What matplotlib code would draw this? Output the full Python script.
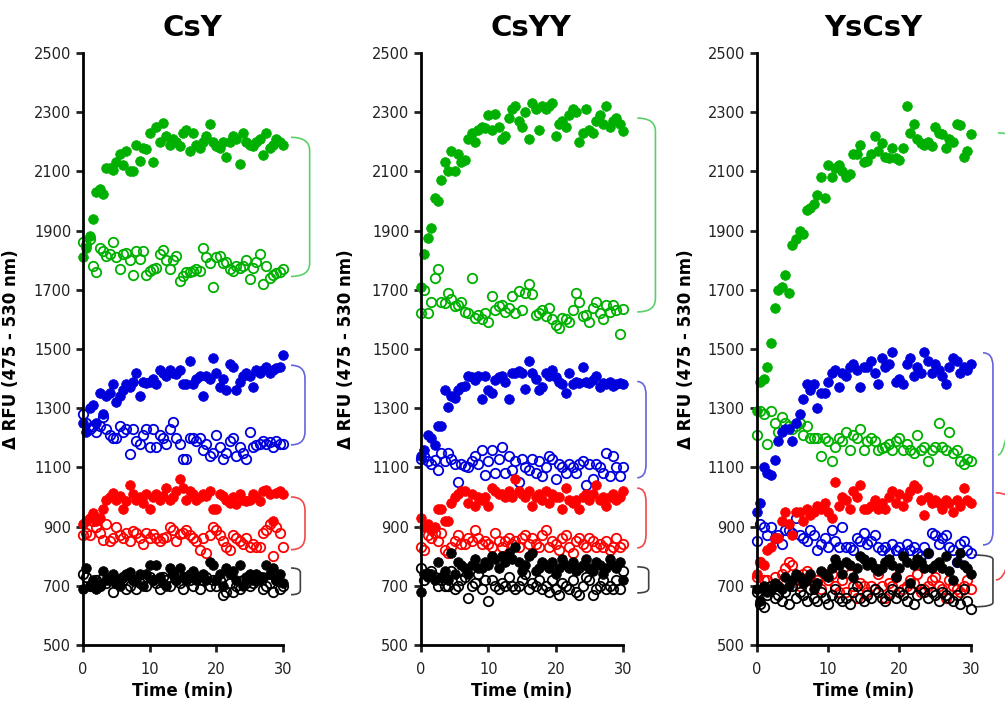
import numpy as np
import matplotlib
matplotlib.use('Agg')
import matplotlib.pyplot as plt
from matplotlib.path import Path
from matplotlib.patches import PathPatch

# Datos (lecturas cada ~0.5 min, 0-30 min)
titles = ['CsY', 'CsYY', 'YsCsY']

# ---- CsY ----
csy_green_fill = [1810, 1840, 1880, 1940, 2030, 2040, 2025, 2110, 2110, 2105,
                  2130, 2160, 2120, 2170, 2100, 2100, 2190, 2135, 2180, 2175,
                  2230, 2130, 2250, 2200, 2265, 2220, 2190, 2210, 2200, 2185,
                  2230, 2240, 2170, 2230, 2190, 2180, 2200, 2220, 2260, 2200,
                  2185, 2180, 2200, 2150, 2200, 2220, 2210, 2125, 2230, 2200,
                  2190, 2185, 2200, 2210, 2155, 2230, 2180, 2190, 2210, 2200, 2190]
csy_green_open = [1860, 1850, 1870, 1780, 1760, 1840, 1830, 1815, 1820, 1860,
                  1810, 1770, 1820, 1825, 1800, 1750, 1830, 1805, 1830, 1750,
                  1765, 1770, 1775, 1820, 1835, 1800, 1770, 1800, 1815, 1730,
                  1745, 1760, 1760, 1765, 1770, 1765, 1840, 1810, 1790, 1710,
                  1810, 1815, 1790, 1795, 1770, 1765, 1780, 1775, 1780, 1800,
                  1735, 1775, 1795, 1820, 1720, 1780, 1740, 1750, 1755, 1760, 1770]
csy_blue_fill = [1250, 1220, 1300, 1310, 1250, 1350, 1280, 1340, 1350, 1380,
                 1320, 1340, 1360, 1380, 1370, 1390, 1420, 1340, 1390, 1385,
                 1390, 1400, 1380, 1430, 1420, 1410, 1430, 1420, 1415, 1430,
                 1380, 1380, 1460, 1380, 1400, 1410, 1340, 1410, 1400, 1470,
                 1420, 1370, 1400, 1360, 1450, 1440, 1360, 1390, 1410, 1420,
                 1410, 1370, 1430, 1420, 1430, 1440, 1420, 1430, 1435, 1440, 1480]
csy_blue_open = [1280, 1250, 1230, 1240, 1220, 1240, 1270, 1230, 1210, 1200,
                 1200, 1240, 1220, 1230, 1145, 1230, 1190, 1180, 1210, 1230,
                 1170, 1230, 1170, 1210, 1200, 1180, 1230, 1255, 1200, 1180,
                 1130, 1130, 1200, 1200, 1190, 1200, 1160, 1180, 1140, 1150,
                 1210, 1170, 1130, 1150, 1190, 1200, 1140, 1170, 1150, 1130,
                 1220, 1170, 1175, 1180, 1190, 1180, 1185, 1170, 1190, 1180, 1180]
csy_red_fill = [910, 920, 930, 945, 920, 930, 960, 990, 1000, 1015,
                990, 1005, 960, 985, 1040, 1010, 990, 1000, 980, 1010,
                960, 1000, 1010, 990, 1005, 1030, 990, 1000, 1020, 1060,
                1030, 990, 1020, 1010, 990, 1000, 1010, 1005, 1020, 960,
                960, 1010, 1005, 990, 980, 1000, 975, 1010, 990, 985,
                990, 1010, 1000, 985, 1020, 1025, 1010, 920, 1015, 1020, 1010]
csy_red_open = [870, 880, 870, 920, 900, 880, 855, 910, 850, 860,
                900, 870, 860, 880, 850, 885, 880, 860, 840, 880,
                860, 875, 860, 850, 860, 865, 900, 890, 850, 875,
                880, 890, 870, 860, 850, 820, 860, 810, 870, 900,
                890, 870, 850, 830, 820, 870, 860, 850, 840, 860,
                830, 840, 830, 830, 880, 890, 910, 800, 900, 880, 830]
csy_black_fill = [690, 760, 700, 720, 690, 700, 750, 720, 730, 740,
                  710, 700, 730, 740, 745, 720, 720, 740, 700, 740,
                  770, 720, 770, 730, 710, 700, 760, 740, 720, 760,
                  730, 720, 740, 750, 720, 730, 740, 720, 780, 770,
                  720, 740, 700, 760, 740, 750, 720, 770, 700, 730,
                  740, 720, 740, 720, 730, 770, 740, 760, 720, 740, 710]
csy_black_open = [740, 730, 700, 710, 720, 700, 730, 710, 720, 680,
                  710, 720, 730, 690, 700, 720, 690, 710, 720, 700,
                  730, 720, 710, 690, 730, 720, 700, 740, 720, 710,
                  690, 730, 720, 700, 730, 690, 720, 730, 700, 720,
                  700, 720, 670, 680, 710, 680, 700, 690, 720, 710,
                  700, 710, 720, 730, 690, 700, 710, 680, 720, 690, 700]

# ---- CsYY ----
csyy_green_fill = [1710, 1820, 1875, 1910, 2010, 2000, 2070, 2130, 2100, 2170,
                   2100, 2160, 2130, 2140, 2210, 2230, 2200, 2240, 2250, 2245,
                   2290, 2240, 2295, 2250, 2210, 2220, 2280, 2310, 2320, 2270,
                   2250, 2300, 2210, 2330, 2310, 2240, 2320, 2310, 2320, 2330,
                   2220, 2260, 2270, 2250, 2290, 2310, 2300, 2200, 2230, 2310,
                   2240, 2230, 2270, 2290, 2260, 2320, 2250, 2270, 2280, 2260, 2235]
csyy_green_open = [1620, 1700, 1620, 1660, 1740, 1770, 1660, 1655, 1690, 1670,
                   1645, 1650, 1660, 1625, 1620, 1740, 1605, 1615, 1600, 1620,
                   1590, 1680, 1630, 1645, 1650, 1625, 1640, 1680, 1620, 1695,
                   1630, 1690, 1720, 1685, 1615, 1620, 1630, 1610, 1640, 1600,
                   1580, 1570, 1605, 1600, 1590, 1630, 1690, 1660, 1610, 1615,
                   1590, 1640, 1660, 1620, 1600, 1650, 1625, 1650, 1630, 1550, 1635]
csyy_blue_fill = [1140, 1160, 1210, 1200, 1175, 1240, 1240, 1360, 1305, 1340,
                  1335, 1360, 1370, 1375, 1410, 1405, 1395, 1410, 1330, 1410,
                  1360, 1350, 1395, 1405, 1410, 1390, 1330, 1420, 1420, 1425,
                  1420, 1365, 1460, 1420, 1400, 1360, 1370, 1420, 1410, 1430,
                  1405, 1390, 1380, 1350, 1420, 1380, 1390, 1385, 1440, 1390,
                  1385, 1395, 1410, 1370, 1385, 1380, 1390, 1375, 1380, 1385, 1380]
csyy_blue_open = [1130, 1140, 1120, 1110, 1125, 1090, 1150, 1120, 1150, 1130,
                  1110, 1050, 1110, 1105, 1100, 1120, 1140, 1110, 1160, 1075,
                  1120, 1160, 1080, 1130, 1170, 1080, 1140, 1090, 1120, 1050,
                  1130, 1100, 1090, 1130, 1080, 1120, 1070, 1100, 1140, 1130,
                  1060, 1110, 1100, 1080, 1110, 1100, 1080, 1110, 1120, 1040,
                  1110, 1060, 1110, 1100, 1080, 1150, 1070, 1140, 1100, 1070, 1100]
csyy_red_fill = [930, 900, 910, 890, 900, 960, 960, 920, 920, 980,
                 1000, 1010, 1020, 1020, 980, 1010, 970, 1000, 990, 1000,
                 970, 1030, 1020, 1010, 1010, 1000, 1020, 1000, 1060, 1020,
                 1010, 1000, 1020, 970, 1000, 1010, 990, 1020, 980, 1010,
                 1000, 1000, 960, 1030, 990, 980, 990, 960, 1000, 1010,
                 990, 1010, 1040, 990, 1000, 970, 1000, 1010, 990, 1000, 1020]
csyy_red_open = [830, 820, 870, 860, 880, 850, 880, 820, 810, 830,
                 850, 870, 840, 840, 860, 850, 890, 860, 840, 850,
                 840, 830, 880, 850, 830, 850, 860, 840, 850, 830,
                 860, 870, 840, 860, 840, 830, 870, 890, 830, 850,
                 840, 820, 860, 870, 830, 810, 850, 860, 840, 830,
                 860, 850, 830, 840, 830, 850, 820, 830, 860, 830, 840]
csyy_black_fill = [680, 740, 730, 740, 720, 780, 730, 750, 720, 810,
                   740, 780, 770, 760, 740, 770, 790, 760, 760, 780,
                   770, 800, 790, 760, 800, 780, 810, 790, 830, 780,
                   750, 770, 800, 810, 750, 760, 780, 770, 760, 780,
                   740, 760, 790, 770, 760, 780, 750, 760, 770, 790,
                   760, 750, 780, 770, 740, 760, 790, 770, 760, 780, 720]
csyy_black_open = [760, 720, 740, 750, 730, 700, 720, 700, 700, 750,
                   690, 700, 720, 730, 660, 700, 710, 740, 690, 720,
                   650, 720, 700, 690, 710, 700, 730, 700, 690, 700,
                   720, 740, 690, 710, 700, 720, 690, 700, 680, 720,
                   690, 670, 710, 700, 690, 720, 680, 670, 700, 730,
                   720, 670, 690, 700, 720, 690, 700, 690, 720, 690, 750]

# ---- YsCsY ----
yscsy_green_fill = [1290, 1390, 1400, 1440, 1520, 1640, 1700, 1710, 1750, 1690,
                    1850, 1870, 1900, 1890, 1970, 1975, 1990, 2020, 2080, 2010,
                    2120, 2080, 2110, 2120, 2100, 2080, 2090, 2160, 2160, 2190,
                    2130, 2135, 2160, 2220, 2170, 2195, 2150, 2145, 2180, 2145,
                    2140, 2180, 2320, 2230, 2260, 2210, 2195, 2190, 2200, 2185,
                    2250, 2230, 2225, 2180, 2210, 2200, 2260, 2255, 2150, 2170, 2225]
yscsy_green_open = [1210, 1290, 1280, 1180, 1290, 1250, 1220, 1270, 1250, 1240,
                    1230, 1240, 1250, 1210, 1240, 1200, 1200, 1200, 1140, 1200,
                    1190, 1120, 1170, 1200, 1190, 1220, 1160, 1210, 1200, 1230,
                    1160, 1190, 1200, 1190, 1160, 1165, 1170, 1180, 1160, 1190,
                    1200, 1160, 1180, 1160, 1150, 1210, 1160, 1170, 1120, 1160,
                    1170, 1250, 1170, 1160, 1220, 1150, 1160, 1120, 1110, 1130, 1120]
yscsy_blue_fill = [950, 980, 1100, 1080, 1075, 1125, 1190, 1220, 1230, 1230,
                   1190, 1250, 1280, 1330, 1380, 1360, 1380, 1300, 1350, 1350,
                   1390, 1420, 1430, 1370, 1420, 1410, 1440, 1450, 1430, 1370,
                   1440, 1440, 1460, 1420, 1380, 1470, 1440, 1450, 1490, 1390,
                   1400, 1380, 1450, 1470, 1410, 1440, 1420, 1490, 1460, 1420,
                   1450, 1430, 1410, 1380, 1440, 1470, 1460, 1420, 1440, 1430, 1450]
yscsy_blue_open = [850, 910, 900, 870, 900, 860, 870, 840, 890, 890,
                   880, 930, 870, 860, 850, 890, 870, 820, 840, 860,
                   830, 890, 850, 830, 900, 830, 830, 820, 860, 850,
                   880, 840, 850, 870, 830, 820, 830, 810, 840, 820,
                   830, 810, 840, 820, 830, 810, 800, 830, 810, 880,
                   870, 840, 860, 870, 830, 820, 780, 840, 850, 820, 810]
yscsy_red_fill = [740, 780, 770, 820, 830, 860, 860, 920, 950, 910,
                  870, 950, 950, 920, 960, 940, 950, 970, 960, 980,
                  950, 930, 1050, 970, 1000, 990, 960, 1020, 1000, 1040,
                  960, 960, 970, 990, 960, 980, 960, 1000, 1020, 980,
                  1010, 970, 1000, 1020, 1040, 1030, 990, 940, 1000, 980,
                  990, 980, 960, 990, 980, 950, 990, 970, 1030, 990, 980]
yscsy_red_open = [730, 780, 720, 720, 700, 730, 700, 740, 760, 780,
                  770, 720, 700, 740, 750, 730, 710, 720, 690, 740,
                  720, 740, 700, 680, 720, 680, 740, 700, 660, 710,
                  700, 680, 700, 690, 740, 700, 660, 710, 700, 730,
                  680, 690, 700, 720, 710, 740, 680, 690, 700, 720,
                  730, 700, 690, 660, 720, 700, 690, 680, 700, 720, 690]
yscsy_black_fill = [690, 650, 700, 680, 690, 710, 700, 690, 730, 700,
                    720, 740, 730, 710, 720, 740, 690, 710, 750, 740,
                    730, 760, 790, 770, 740, 780, 770, 730, 760, 800,
                    790, 770, 780, 760, 750, 760, 780, 790, 770, 730,
                    760, 800, 780, 710, 770, 790, 780, 760, 810, 760,
                    770, 780, 760, 800, 750, 720, 780, 810, 770, 760, 740]
yscsy_black_open = [680, 640, 630, 670, 700, 660, 670, 650, 680, 640,
                    700, 660, 680, 670, 650, 690, 660, 650, 680, 660,
                    640, 670, 690, 660, 650, 660, 640, 680, 700, 660,
                    650, 670, 660, 690, 680, 660, 650, 670, 690, 660,
                    680, 670, 650, 690, 640, 670, 690, 680, 660, 680,
                    670, 650, 680, 670, 660, 650, 670, 640, 690, 650, 620]

# rango de los corchetes (valor superior, valor inferior) por color
csy_brackets = {'green': (2215, 1745), 'blue': (1445, 1176), 'red': (1000, 822), 'black': (760, 670)}
csyy_brackets = {'green': (2280, 1625), 'blue': (1390, 1065), 'red': (1030, 828), 'black': (764, 676)}
yscsy_brackets = {'green': (2230, 1142), 'blue': (1487, 838), 'red': (1014, 720), 'black': (804, 629)}

colores = {'green': '#00b000', 'blue': '#0000dd', 'red': '#ff0000', 'black': '#000000'}
colores_corchete = {'green': '#5ccf6a', 'blue': '#6464dc', 'red': '#f04848', 'black': '#404040'}

paneles = [
    {'green': (csy_green_fill, csy_green_open), 'blue': (csy_blue_fill, csy_blue_open),
     'red': (csy_red_fill, csy_red_open), 'black': (csy_black_fill, csy_black_open)},
    {'green': (csyy_green_fill, csyy_green_open), 'blue': (csyy_blue_fill, csyy_blue_open),
     'red': (csyy_red_fill, csyy_red_open), 'black': (csyy_black_fill, csyy_black_open)},
    {'green': (yscsy_green_fill, yscsy_green_open), 'blue': (yscsy_blue_fill, yscsy_blue_open),
     'red': (yscsy_red_fill, yscsy_red_open), 'black': (yscsy_black_fill, yscsy_black_open)},
]
corchetes = [csy_brackets, csyy_brackets, yscsy_brackets]

# posiciones x de los corchetes (min) y posiciones de ejes
bracket_x = [
    {'green': (31.2, 34.0), 'blue': (31.2, 33.3), 'red': (31.2, 33.3), 'black': (31.2, 32.6)},
    {'green': (32.1, 34.8), 'blue': (32.1, 33.4), 'red': (32.1, 33.4), 'black': (32.1, 33.8)},
    {'green': (33.8, 36.5), 'blue': (31.7, 33.1), 'red': (33.5, 35.8), 'black': (30.4, 33.1)},
]
axes_pos = [[0.0826, 0.0838, 0.199, 0.841],
            [0.419, 0.0838, 0.201, 0.841],
            [0.753, 0.0838, 0.213, 0.841]]
ylabel_x = [-0.315, -0.327, -0.29]


def dibujar_corchete(ax, x0, x1, ytop, ybot, color, h=40):
    verts = [(x0, ytop), (x1, ytop), (x1, ytop - h),
             (x1, ybot + h), (x1, ybot), (x0, ybot)]
    codes = [Path.MOVETO, Path.CURVE3, Path.CURVE3,
             Path.LINETO, Path.CURVE3, Path.CURVE3]
    patch = PathPatch(Path(verts, codes), fill=False, edgecolor=color, lw=1.2, clip_on=False)
    ax.add_patch(patch)


fig = plt.figure(figsize=(10.05, 7.04), dpi=100)

for i in range(3):
    ax = fig.add_axes(axes_pos[i])
    datos = paneles[i]
    # primero los abiertos, luego los llenos
    for c in ['green', 'blue', 'red', 'black']:
        vals = datos[c][1]
        t = np.linspace(0, 30, len(vals))
        ax.plot(t, vals, 'o', ms=6.8, mfc='none', mec=colores[c], mew=1.3, clip_on=False)
    for c in ['green', 'blue', 'red', 'black']:
        vals = datos[c][0]
        t = np.linspace(0, 30, len(vals))
        ax.plot(t, vals, 'o', ms=7, mfc=colores[c], mec=colores[c], mew=0.5, clip_on=False)
    for c in ['green', 'blue', 'red', 'black']:
        ytop, ybot = corchetes[i][c]
        x0, x1 = bracket_x[i][c]
        dibujar_corchete(ax, x0, x1, ytop, ybot, colores_corchete[c], h=45 if c != 'black' else 15)

    ax.set_xlim(0, 30)
    ax.set_ylim(500, 2500)
    ax.set_xticks([0, 10, 20, 30])
    ax.set_yticks(np.arange(500, 2501, 200))
    ax.spines['top'].set_visible(False)
    ax.spines['right'].set_visible(False)
    ax.spines['left'].set_linewidth(2)
    ax.spines['bottom'].set_linewidth(2)
    ax.tick_params(axis='both', direction='out', length=5, width=2, labelsize=10.5, colors='#222222')
    ax.tick_params(axis='x', pad=7)
    ax.set_xlabel('Time (min)', fontsize=12, fontweight='bold', labelpad=4)
    ax.set_ylabel('Δ RFU (475 - 530 nm)', fontsize=12, fontweight='bold')
    ax.yaxis.set_label_coords(ylabel_x[i], 0.5)
    ax.set_title(titles[i], fontsize=21, fontweight='bold', x=0.545, pad=12)

plt.savefig('out.png', dpi=100)
